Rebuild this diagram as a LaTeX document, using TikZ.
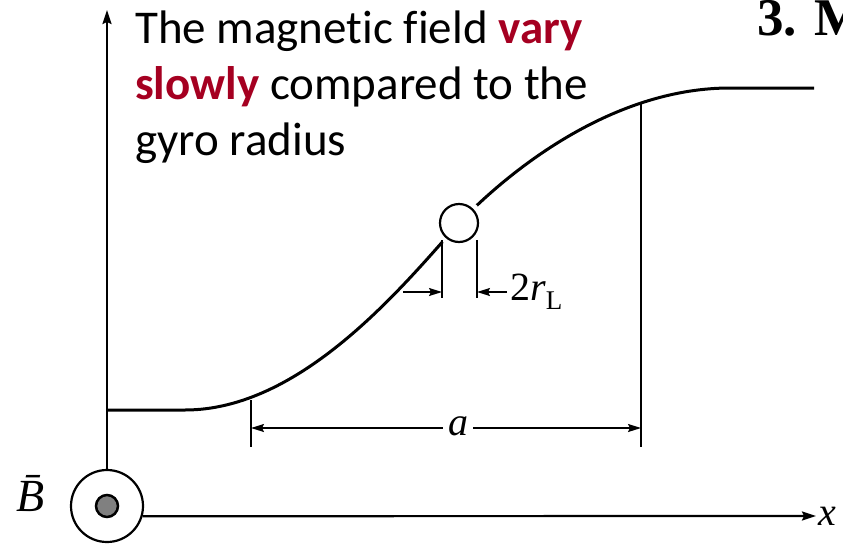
\documentclass[tikz,border=0pt]{standalone}
\usepackage{fontspec}
\setmainfont{Carlito}[Ligatures=NoCommon]
\newfontfamily\tms{Liberation Serif}
\usepackage{xcolor}
\usepackage{tikz}
\usetikzlibrary{arrows.meta, positioning, calc}

\definecolor{fieldred}{RGB}{165,0,33}
\definecolor{dotgray}{RGB}{128,128,128}

\begin{document}
\begin{tikzpicture}[x=1pt, y=-1pt, >={Stealth[length=14pt,width=9pt,inset=2pt]}]
    \tikzset{
        axis/.style={draw, line width=2.2pt, ->},
        field/.style={draw, line width=3pt},
        tick/.style={draw, line width=1.6pt},
        dim/.style={draw, line width=1.6pt, ->, >={Stealth[length=13pt,width=8pt,inset=2pt]}},
        mathlab/.style={font=\tms\itshape\fontsize{40}{40}\selectfont, inner sep=2pt}
    }
    \useasboundingbox (0,0) rectangle (843,544);

    % B field marker and axes
    \node (bcirc) [circle, draw, line width=2.2pt, minimum size=72pt, inner sep=0pt] at (107,506) {};
    \node (bdot) [circle, draw, line width=2.5pt, fill=dotgray, minimum size=22pt, inner sep=0pt] at (107,506) {};
    \node (blab) [anchor=base, inner sep=0pt, font=\tms\itshape\fontsize{46}{46}\selectfont] at (31,511) {\={B}};
    \coordinate (ytip) at (107,10);
    \coordinate (xtip) at (816,516);
    \path [axis] (bcirc.north) -- (ytip);
    \path [axis] (bcirc.-16) -- (xtip);
    \node (xlab) [mathlab, anchor=west] at (xtip) {x};

    % field profile
    \coordinate (flat0) at (108,410);
    \coordinate (bend0) at (185,410);
    \coordinate (mid) at (459,223);
    \coordinate (bend1) at (730,88);
    \coordinate (flat1) at (814,88);
    \path [field] (flat0) -- (bend0)
        .. controls (300,410) and (400,290) .. (mid)
        .. controls (520,160) and (620,88) .. (bend1) -- (flat1);

    % gyro orbit
    \node (gyro) [circle, draw, line width=2.2pt, fill=white, minimum size=38pt, inner sep=0pt,
        preaction={draw=white, line width=12pt}] at (mid) {};

    % 2 r_L
    \coordinate (gl0) at (442,240);
    \coordinate (gl1) at (442,298);
    \coordinate (gr0) at (477,240);
    \coordinate (gr1) at (477,298);
    \coordinate (gstart) at (403,292);
    \path [tick] (gl0) -- (gl1);
    \path [tick] (gr0) -- (gr1);
    \node (rlab) [anchor=base west, inner sep=0pt, font=\tms\fontsize{40}{40}\selectfont] at (510,300)
        {2\textit{r}\raisebox{-9pt}{\fontsize{27}{27}\selectfont L}};
    \path [dim] (gstart) -- (gstart -| gl0);
    \path [dim] ($(rlab.west |- gstart)+(-3,0)$) -- (gstart -| gr0);

    % scale length a
    \coordinate (al0) at (251,400);
    \coordinate (al1) at (251,447);
    \coordinate (ar0) at (641,104);
    \coordinate (ar1) at (641,447);
    \path [tick] (al0) -- (al1);
    \path [tick] (ar0) -- (ar1);
    \node (alab) [mathlab, inner sep=5pt] at (458,426) {a};
    \path [dim] (alab.west |- 0,428) -- (al0 |- 0,428);
    \path [dim] (alab.east |- 0,428) -- (ar0 |- 0,428);

    % text
    \node (note) [anchor=base west, align=left, inner sep=0pt,
        font=\fontsize{47}{56}\selectfont] at (135,155)
        {The magnetic field \textbf{\color{fieldred}vary}\\
         \textbf{\color{fieldred}slowly} compared to the\\
         gyro radius};
    \node (title) [anchor=base west, inner sep=0pt, font=\tms\bfseries\fontsize{53}{53}\selectfont]
        at (757,35) {3. M};
\end{tikzpicture}
\end{document}
